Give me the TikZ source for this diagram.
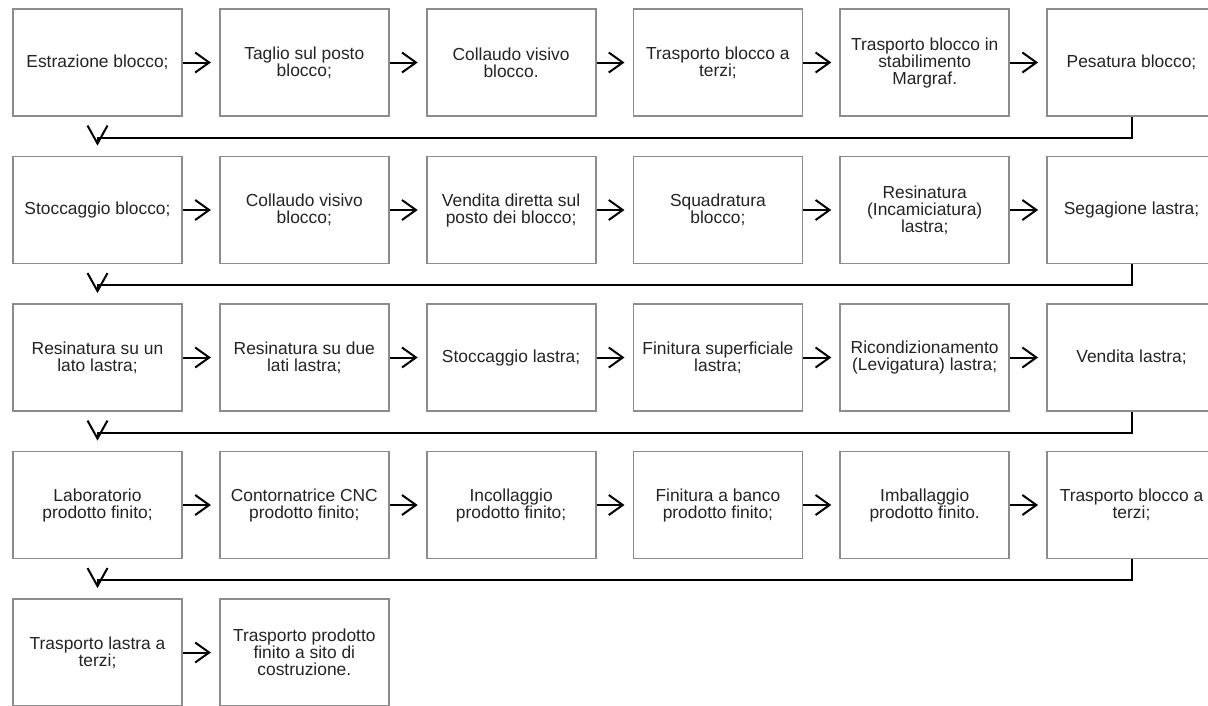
\documentclass[tikz,border=0pt]{standalone}
\usepackage{fontspec}
\setmainfont{Liberation Sans}
\usetikzlibrary{arrows.meta}
\definecolor{boxgray}{RGB}{140,140,140}
\definecolor{txt}{RGB}{35,35,35}
\tikzset{
  box/.style={draw=boxgray, line width=1.8pt, rectangle, minimum width=169pt, minimum height=107pt,
    inner sep=0pt, align=center, text=txt, font=\fontsize{17.4}{17}\selectfont},
  arr/.style={draw=black, line width=2pt, -{Straight Barb[length=14pt,width=20pt,line width=2pt]}},
  ret/.style={draw=black, line width=2pt, -{Straight Barb[length=18pt,width=20pt,line width=2pt]}}
}
\newcommand\bx[4]{\node[box] (#1) at ({97.5+#3*206.8},{62.5+#2*147.5}) {#4};}
\begin{document}
\begin{tikzpicture}[x=1pt,y=-1pt]
\useasboundingbox (0,0) rectangle (1208,705);
% row 1
\bx{n11}{0}{0}{Estrazione blocco;}
\bx{n12}{0}{1}{Taglio sul posto\\blocco;}
\bx{n13}{0}{2}{Collaudo visivo\\blocco.}
\bx{n14}{0}{3}{Trasporto blocco a\\terzi;}
\bx{n15}{0}{4}{Trasporto blocco in\\stabilimento\\Margraf.}
\bx{n16}{0}{5}{Pesatura blocco;}
% row 2
\bx{n21}{1}{0}{Stoccaggio blocco;}
\bx{n22}{1}{1}{Collaudo visivo\\blocco;}
\bx{n23}{1}{2}{Vendita diretta sul\\posto dei blocco;}
\bx{n24}{1}{3}{Squadratura\\blocco;}
\bx{n25}{1}{4}{Resinatura\\(Incamiciatura)\\lastra;}
\bx{n26}{1}{5}{Segagione lastra;}
% row 3
\bx{n31}{2}{0}{Resinatura su un\\lato lastra;}
\bx{n32}{2}{1}{Resinatura su due\\lati lastra;}
\bx{n33}{2}{2}{Stoccaggio lastra;}
\bx{n34}{2}{3}{Finitura superficiale\\lastra;}
\bx{n35}{2}{4}{Ricondizionamento\\(Levigatura) lastra;}
\bx{n36}{2}{5}{Vendita lastra;}
% row 4
\bx{n41}{3}{0}{Laboratorio\\prodotto finito;}
\bx{n42}{3}{1}{Contornatrice CNC\\prodotto finito;}
\bx{n43}{3}{2}{Incollaggio\\prodotto finito;}
\bx{n44}{3}{3}{Finitura a banco\\prodotto finito;}
\bx{n45}{3}{4}{Imballaggio\\prodotto finito.}
\bx{n46}{3}{5}{Trasporto blocco a\\terzi;}
% row 5
\bx{n51}{4}{0}{Trasporto lastra a\\terzi;}
\bx{n52}{4}{1}{Trasporto prodotto\\finito a sito di\\costruzione.}
% horizontal arrows
\foreach \r in {1,2,3,4}{
  \foreach \a/\b in {1/2,2/3,3/4,4/5,5/6}{
    \draw[arr] (n\r\a.east) -- ([xshift=-8pt]n\r\b.west);
  }
}
\draw[arr] (n51.east) -- ([xshift=-8pt]n52.west);
% return connectors
\foreach \r/\s in {1/2,2/3,3/4,4/5}{
  \draw[ret] (n\r6.south) -- ++(0,21) -| ([yshift=10pt]n\s1.north);
}
\end{tikzpicture}
\end{document}
